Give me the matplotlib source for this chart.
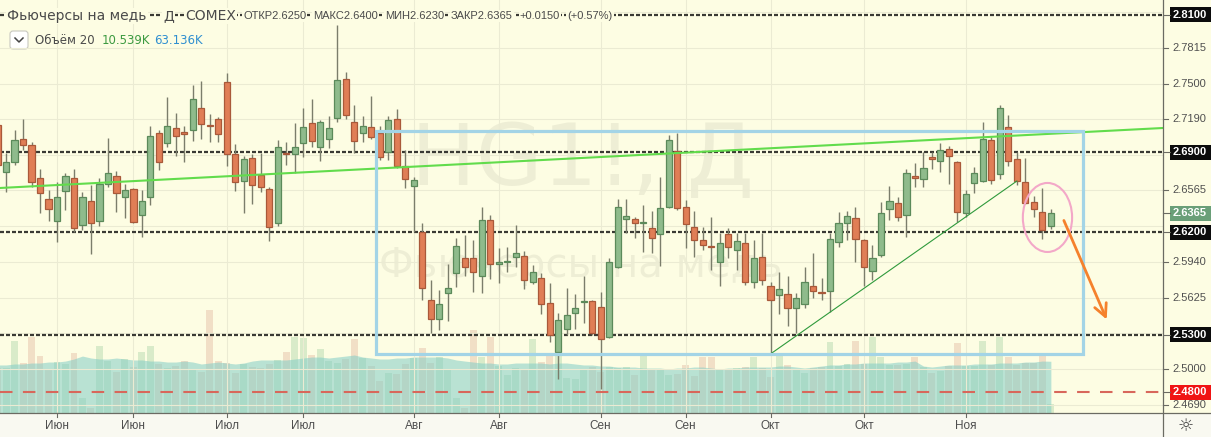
import numpy as np
import matplotlib
matplotlib.use("Agg")
import matplotlib.pyplot as plt
from matplotlib.patches import Rectangle, Ellipse, FancyBboxPatch
from matplotlib.lines import Line2D
from matplotlib.transforms import IdentityTransform

# daily bars, copper futures (HG1!, COMEX)
opens = [2.7137, 2.6726, 2.6814, 2.7015, 2.6962, 2.6674, 2.6490, 2.6297, 2.6560, 2.6674,
         2.6262, 2.6472, 2.6297, 2.6621, 2.6691, 2.6507, 2.6577, 2.6350, 2.6507, 2.7067,
         2.6980, 2.7111, 2.7076, 2.7094, 2.7286, 2.7137, 2.7190, 2.7513, 2.6884, 2.6647,
         2.6849, 2.6700, 2.6577, 2.6280, 2.6892, 2.6884, 2.6980, 2.7155, 2.6945, 2.7015,
         2.7198, 2.7540, 2.7164, 2.7067, 2.7120, 2.7067, 2.6901, 2.7190, 2.6779, 2.6604,
         2.6201, 2.5606, 2.5440, 2.5667, 2.5842, 2.5974, 2.5974, 2.5816, 2.6306, 2.5921,
         2.5935, 2.5982, 2.5991, 2.5764, 2.5799, 2.5580, 2.5151, 2.5352, 2.5492, 2.5589,
         2.5597, 2.5545, 2.5282, 2.5895, 2.6315, 2.6315, 2.6280, 2.6236, 2.6184, 2.6420,
         2.6910, 2.6420, 2.6245, 2.6131, 2.6070, 2.5939, 2.6184, 2.6044, 2.6105, 2.5764,
         2.5982, 2.5729, 2.5650, 2.5659, 2.5536, 2.5571, 2.5729, 2.5676, 2.5685, 2.6114,
         2.6280, 2.6324, 2.6131, 2.5860, 2.6000, 2.6402, 2.6455, 2.6350, 2.6691, 2.6665,
         2.6857, 2.6822, 2.6927, 2.6814, 2.6367, 2.6630, 2.6647, 2.7006, 2.6709, 2.7120,
         2.6840, 2.6639, 2.6464, 2.6376, 2.6250]
highs = [2.7198, 2.6892, 2.7094, 2.7190, 2.6989, 2.6752, 2.6569, 2.6639, 2.6717, 2.6752,
         2.6551, 2.6612, 2.6674, 2.7024, 2.6735, 2.6621, 2.6586, 2.6569, 2.7129, 2.7094,
         2.7382, 2.7242, 2.7129, 2.7487, 2.7522, 2.7233, 2.7207, 2.7592, 2.6971, 2.6866,
         2.6884, 2.6892, 2.6595, 2.7006, 2.6989, 2.7155, 2.7286, 2.7365, 2.7181, 2.7216,
         2.8012, 2.7601, 2.7312, 2.7216, 2.7391, 2.7129, 2.7216, 2.7277, 2.6919, 2.6682,
         2.6280, 2.5781, 2.5694, 2.5921, 2.6149, 2.6175, 2.6131, 2.6420, 2.6350, 2.6061,
         2.6070, 2.6262, 2.6035, 2.5913, 2.5842, 2.5755, 2.5492, 2.5711, 2.5659, 2.5816,
         2.5606, 2.5676, 2.5974, 2.6490, 2.6490, 2.6332, 2.6437, 2.6385, 2.6682, 2.7050,
         2.7067, 2.6481, 2.6385, 2.6245, 2.6332, 2.6192, 2.6236, 2.6192, 2.6192, 2.6131,
         2.6192, 2.5764, 2.5851, 2.5816, 2.5667, 2.5895, 2.6017, 2.5799, 2.6192, 2.6376,
         2.6385, 2.6420, 2.6140, 2.6087, 2.6464, 2.6604, 2.6507, 2.6752, 2.6805, 2.6901,
         2.6901, 2.6980, 2.6954, 2.6822, 2.6569, 2.6770, 2.7164, 2.7032, 2.7312, 2.7225,
         2.6901, 2.6849, 2.6516, 2.6586, 2.6400]
lows = [2.6744, 2.6551, 2.6787, 2.6919, 2.6595, 2.6367, 2.6297, 2.6114, 2.6394, 2.6201,
        2.6219, 2.6009, 2.6254, 2.6595, 2.6376, 2.6324, 2.6280, 2.6157, 2.6437, 2.6744,
        2.6945, 2.6866, 2.6814, 2.6997, 2.7015, 2.6989, 2.6989, 2.6779, 2.6560, 2.6367,
        2.6446, 2.6551, 2.6122, 2.6254, 2.6787, 2.6717, 2.6857, 2.6945, 2.6822, 2.6936,
        2.7164, 2.7190, 2.6892, 2.6989, 2.7015, 2.6831, 2.6831, 2.6761, 2.6586, 2.6201,
        2.5606, 2.5317, 2.5344, 2.5422, 2.5720, 2.5816, 2.5676, 2.5667, 2.5790, 2.5755,
        2.5851, 2.5895, 2.5702, 2.5746, 2.5484, 2.5239, 2.4915, 2.5300, 2.5352, 2.5405,
        2.5300, 2.4827, 2.5274, 2.5886, 2.6192, 2.6149, 2.6026, 2.6017, 2.5904, 2.6411,
        2.6394, 2.6061, 2.5982, 2.6044, 2.5869, 2.5729, 2.5974, 2.5869, 2.5737, 2.5711,
        2.5737, 2.5134, 2.5484, 2.5379, 2.5317, 2.5536, 2.5624, 2.5606, 2.5501, 2.6070,
        2.6131, 2.5939, 2.5729, 2.5781, 2.5982, 2.6306, 2.6297, 2.6157, 2.6595, 2.6595,
        2.6752, 2.6726, 2.6621, 2.6289, 2.6332, 2.6542, 2.6639, 2.6621, 2.6665, 2.6779,
        2.6612, 2.6446, 2.6332, 2.6140, 2.6230]
closes = [2.6787, 2.6814, 2.7006, 2.6962, 2.6639, 2.6542, 2.6402, 2.6507, 2.6691, 2.6236,
          2.6507, 2.6280, 2.6621, 2.6717, 2.6542, 2.6569, 2.6289, 2.6472, 2.7041, 2.6814,
          2.7129, 2.7041, 2.7059, 2.7365, 2.7146, 2.7129, 2.7059, 2.6884, 2.6639, 2.6840,
          2.6612, 2.6595, 2.6245, 2.6945, 2.6884, 2.6945, 2.7120, 2.6997, 2.7164, 2.7111,
          2.7531, 2.7225, 2.6997, 2.7129, 2.7032, 2.6857, 2.7181, 2.6779, 2.6665, 2.6656,
          2.5711, 2.5440, 2.5571, 2.5711, 2.6079, 2.5895, 2.5851, 2.6306, 2.5921, 2.5939,
          2.5939, 2.6017, 2.5781, 2.5851, 2.5571, 2.5300, 2.5431, 2.5475, 2.5536, 2.5592,
          2.5317, 2.5265, 2.5939, 2.6420, 2.6341, 2.6280, 2.6282, 2.6149, 2.6411, 2.7006,
          2.6411, 2.6271, 2.6131, 2.6087, 2.6067, 2.6105, 2.6070, 2.6122, 2.5764, 2.5974,
          2.5781, 2.5606, 2.5702, 2.5536, 2.5624, 2.5764, 2.5685, 2.5667, 2.6140, 2.6280,
          2.6341, 2.6140, 2.5895, 2.5974, 2.6367, 2.6472, 2.6332, 2.6717, 2.6674, 2.6761,
          2.6840, 2.6919, 2.6866, 2.6376, 2.6534, 2.6717, 2.7015, 2.6656, 2.7286, 2.6822,
          2.6647, 2.6455, 2.6402, 2.6215, 2.6365]

# volume, thousands of contracts, and its 20-day average ("Объём 20")
volumes = [54.9, 54.9, 87.8, 61.0, 92.7, 69.5, 52.5, 62.2, 59.8, 73.2,
           18.3, 6.1, 81.7, 63.4, 50.0, 65.9, 56.1, 74.4, 81.7, 59.8,
           54.9, 57.3, 63.4, 52.5, 50.0, 125.7, 63.4, 61.0, 48.8, 59.8,
           56.1, 54.9, 59.8, 64.7, 74.4, 92.7, 91.5, 70.8, 78.1, 63.4,
           61.0, 65.9, 90.3, 67.1, 57.3, 39.0, 48.8, 47.6, 59.8, 67.1,
           79.3, 61.0, 68.3, 53.7, 18.3, 6.1, 101.3, 68.3, 92.7, 57.3,
           46.4, 54.9, 52.5, 90.3, 62.2, 69.5, 73.2, 42.7, 41.5, 53.7,
           56.1, 50.0, 56.1, 54.9, 56.1, 46.4, 69.5, 53.7, 52.5, 46.4,
           47.6, 58.6, 45.1, 68.3, 68.3, 53.7, 52.5, 54.9, 56.1, 68.3,
           54.9, 43.9, 69.5, 58.6, 53.7, 48.8, 54.9, 56.1, 86.6, 57.3,
           59.8, 87.8, 59.8, 92.7, 68.3, 58.6, 58.6, 59.8, 68.3, 56.1,
           48.8, 51.2, 57.3, 85.4, 57.3, 57.3, 87.8, 58.6, 92.7, 68.3,
           58.6, 61.0, 61.0, 69.5, 10.539]
volume_ma = [58.6, 58.6, 59.8, 59.8, 61.0, 61.0, 62.2, 62.2, 63.4, 65.9,
             69.5, 67.1, 65.9, 65.9, 67.1, 65.9, 64.7, 64.7, 63.4, 63.4,
             62.2, 62.2, 63.4, 62.2, 59.8, 61.0, 62.2, 61.0, 59.8, 61.0,
             63.4, 64.7, 64.7, 64.7, 64.7, 65.9, 67.1, 68.3, 68.3, 67.1,
             68.3, 69.5, 70.8, 68.3, 67.1, 65.9, 65.9, 67.1, 67.1, 68.3,
             68.3, 68.3, 68.3, 67.1, 64.7, 63.4, 62.2, 61.0, 61.0, 59.8,
             59.8, 61.0, 61.0, 61.0, 61.0, 59.8, 61.0, 61.0, 59.8, 58.6,
             58.6, 57.3, 57.3, 56.1, 56.1, 56.1, 54.9, 54.9, 54.9, 53.7,
             54.9, 54.9, 56.1, 56.1, 54.9, 53.7, 54.9, 54.9, 56.1, 56.1,
             56.1, 56.1, 57.3, 57.3, 56.1, 54.9, 56.1, 57.3, 58.6, 58.6,
             59.8, 59.8, 61.0, 61.0, 61.0, 61.0, 62.2, 62.2, 63.4, 57.3,
             56.1, 57.3, 58.6, 58.6, 58.6, 59.8, 59.8, 59.8, 61.0, 61.0,
             61.0, 62.2, 62.2, 63.4, 63.136]

month_ticks = [7, 16, 27, 36, 49, 59, 71, 81, 91, 102, 114]
month_labels = ['Июн', 'Июн', 'Июл', 'Июл', 'Авг', 'Авг', 'Сен', 'Сен', 'Окт', 'Окт', 'Ноя']
price_ticks = [2.4690, 2.5000, 2.5625, 2.5940, 2.6565, 2.7190, 2.7500, 2.7815]
grid_prices = [2.4690, 2.5000, 2.5315, 2.5625, 2.5940, 2.6250, 2.6565, 2.6875,
               2.7190, 2.7500, 2.7815, 2.8125]
levels = [2.81, 2.69, 2.62, 2.53]
support = 2.48

# hand-drawn objects on the chart: (bar, price) anchors
trend_long = [(0.29, 2.6586), (137.2, 2.7111)]
trend_up = [(91, 2.5134), (120, 2.6647)]
box = [(44.55, 2.5134), (127.77, 2.7085)]
circle = [(123.6, 2.6328), (5.8, 0.0604)]
arrow = [(125.4, 2.6324), (130.7, 2.5413)]

W, H = 1211, 437
PLOT_R, PLOT_B = 1163, 413
BG = '#fdfde3'
GRID = '#ebebd3'
UP_FILL, UP_EDGE = '#8fbb8c', '#5b8a5a'
DN_FILL, DN_EDGE = '#e07e56', '#a9593a'
WICK = '#7b7d6b'
AXFONT = ['Liberation Sans', 'DejaVu Sans']
PX = IdentityTransform()


def py(y):
    return H - y


fig = plt.figure(figsize=(W / 100, H / 100), dpi=100)
fig.patch.set_facecolor(BG)
rect = [0, 1 - PLOT_B / H, PLOT_R / W, PLOT_B / H]
axv = fig.add_axes(rect, zorder=0)
ax = fig.add_axes(rect, zorder=1)
for a in (axv, ax):
    a.set_axis_off()
    a.set_xlim(0.29, 137.2)
ax.set_ylim(2.4617, 2.8231)
axv.set_ylim(0, 504)

o = np.array(opens)
h = np.array(highs)
l = np.array(lows)
c = np.array(closes)
x = np.arange(len(c))
up = c >= o

# watermark
axv.text(0.501, 0.608, 'HG1!, Д', transform=axv.transAxes, ha='center', va='center',
         fontsize=62, color='black', alpha=0.06)
axv.text(0.499, 0.357, 'Фьючерсы на медь', transform=axv.transAxes, ha='center',
         va='center', fontsize=29, color='black', alpha=0.06)

# volume + average
axv.bar(x, volumes, width=0.82, color=np.where(up, '#d9ebc9', '#f1dfc6'), linewidth=0)
axv.fill_between(x, volume_ma, color='#82cdc6', alpha=0.55, linewidth=0)

# grid
for p in grid_prices:
    ax.axhline(p, color=GRID, lw=0.8, zorder=0)
for t in month_ticks:
    ax.axvline(t, color=GRID, lw=0.8, zorder=0)

# levels
for p in levels:
    ax.axhline(p, color='#3a3a34', lw=1.6, ls=(0, (1.8, 0.9)), zorder=2)
ax.axhline(support, color='#d8675b', lw=1.5, ls=(0, (6, 5)), zorder=2)

# candles
ax.vlines(x, l, h, color=WICK, lw=1, zorder=3)
body_lo = np.minimum(o, c)
body_h = np.maximum(np.abs(c - o), 0.0012)
ax.bar(x, body_h, bottom=body_lo, width=0.72,
       color=np.where(up, UP_FILL, DN_FILL), edgecolor=np.where(up, UP_EDGE, DN_EDGE),
       linewidth=0.9, zorder=4)

# drawings
ax.plot(*zip(*trend_long), color='#62dc4c', lw=1.5, zorder=5)
ax.plot(*zip(*trend_up), color='#2f9a3c', lw=0.8, zorder=5)
(bx0, by0), (bx1, by1) = box
ax.add_patch(Rectangle((bx0, by0), bx1 - bx0, by1 - by0, fill=False,
                       ec='#a3d4e6', lw=2.3, zorder=6))
ax.add_patch(Ellipse(circle[0], circle[1][0], circle[1][1], fill=False,
                     ec='#f3a8c8', lw=1.5, zorder=6))
ax.annotate('', xy=arrow[1], xytext=arrow[0],
            arrowprops=dict(arrowstyle='->,head_length=0.9,head_width=0.45',
                            color='#f5812c', lw=2.0), zorder=6)

# time scale
fig.add_artist(Rectangle((0, 0), W, H - PLOT_B, transform=PX, fc='#f9f9f1', ec='none', zorder=-1))
fig.add_artist(Line2D([0, W], [py(PLOT_B)] * 2, transform=PX, color='#6b6b63', lw=0.9))
fig.add_artist(Line2D([PLOT_R] * 2, [0, H], transform=PX, color='#6b6b63', lw=0.9))
for t, lab in zip(month_ticks, month_labels):
    xd = ax.transData.transform((t, 2.6))[0]
    fig.add_artist(Line2D([xd, xd], [py(PLOT_B), py(PLOT_B + 4)], transform=PX,
                          color='#6b6b63', lw=0.8))
    fig.text(xd, py(426), lab, transform=PX, ha='center', va='center',
             fontsize=8.5, color='#4e4e4e', family=AXFONT)

# price scale
for p in price_ticks:
    yd = ax.transData.transform((0, p))[1]
    fig.add_artist(Line2D([PLOT_R, PLOT_R + 5], [yd, yd], transform=PX, color='#6b6b63', lw=0.8))
    fig.text(PLOT_R + 9, yd, f'{p:.4f}', transform=PX, ha='left', va='center',
             fontsize=8, color='#505050', family=AXFONT)

tags = [(p, '#0c0c0c') for p in levels] + [(support, '#f01414'), (c[-1], '#6a9f78')]
for p, col in tags:
    yd = ax.transData.transform((0, p))[1]
    fig.add_artist(Line2D([PLOT_R, PLOT_R + 7], [yd, yd], transform=PX, color='#6b6b63', lw=0.8))
    fig.add_artist(Rectangle((PLOT_R + 7, yd - 7.5), W - PLOT_R - 7, 15, transform=PX,
                             fc=col, ec='none'))
    fig.text(PLOT_R + 10, yd, f'{p:.4f}', transform=PX, ha='left', va='center',
             fontsize=8, color='white', fontweight='bold', family=AXFONT)

fig.text(1186, py(426), '☼', transform=PX, ha='center', va='center', fontsize=13, color='#444444')

# legend line 1: name, then OHLC laid out one after another
for s, xp in [('Фьючерсы на медь', 7), ('Д', 163), ('COMEX', 185)]:
    fig.text(xp, py(16), s, transform=PX, ha='left', va='center', fontsize=10,
             color='#4a4a4a', bbox=dict(fc=BG, ec='none', pad=1.0))

chg = c[-1] - c[-2]
ohlc = [f'ОТКР{o[-1]:.4f}', f'МАКС{h[-1]:.4f}', f'МИН{l[-1]:.4f}', f'ЗАКР{c[-1]:.4f}',
        f'{chg:+.4f}', f'({chg / c[-2] * 100:+.2f}%)']
renderer = fig.canvas.get_renderer()
xp = 243
for s in ohlc:
    t = fig.text(xp, py(16), s, transform=PX, ha='left', va='center', fontsize=8,
                 family=AXFONT, color='#4a4a4a', bbox=dict(fc=BG, ec='none', pad=1.0))
    xp = t.get_window_extent(renderer).x1 + 7

# legend line 2: volume
fig.add_artist(FancyBboxPatch((10, py(49)), 18, 18, boxstyle='round,pad=0,rounding_size=3',
                              transform=PX, fc='white', ec='#c8c8c0', lw=0.8))
fig.add_artist(Line2D([15, 19, 23], [py(38), py(42), py(38)], transform=PX,
                      color='#444444', lw=1.1))
fig.text(35, py(40), 'Объём 20', transform=PX, ha='left', va='center', fontsize=8.5, color='#4a4a4a')
fig.text(102, py(40), f'{volumes[-1]:.3f}K', transform=PX, ha='left', va='center',
         fontsize=8.5, color='#3c9a40')
fig.text(154, py(40), f'{volume_ma[-1]:.3f}K', transform=PX, ha='left', va='center',
         fontsize=8.5, color='#2f8fd0')

fig.savefig('out.png', dpi=100, facecolor=fig.get_facecolor())
